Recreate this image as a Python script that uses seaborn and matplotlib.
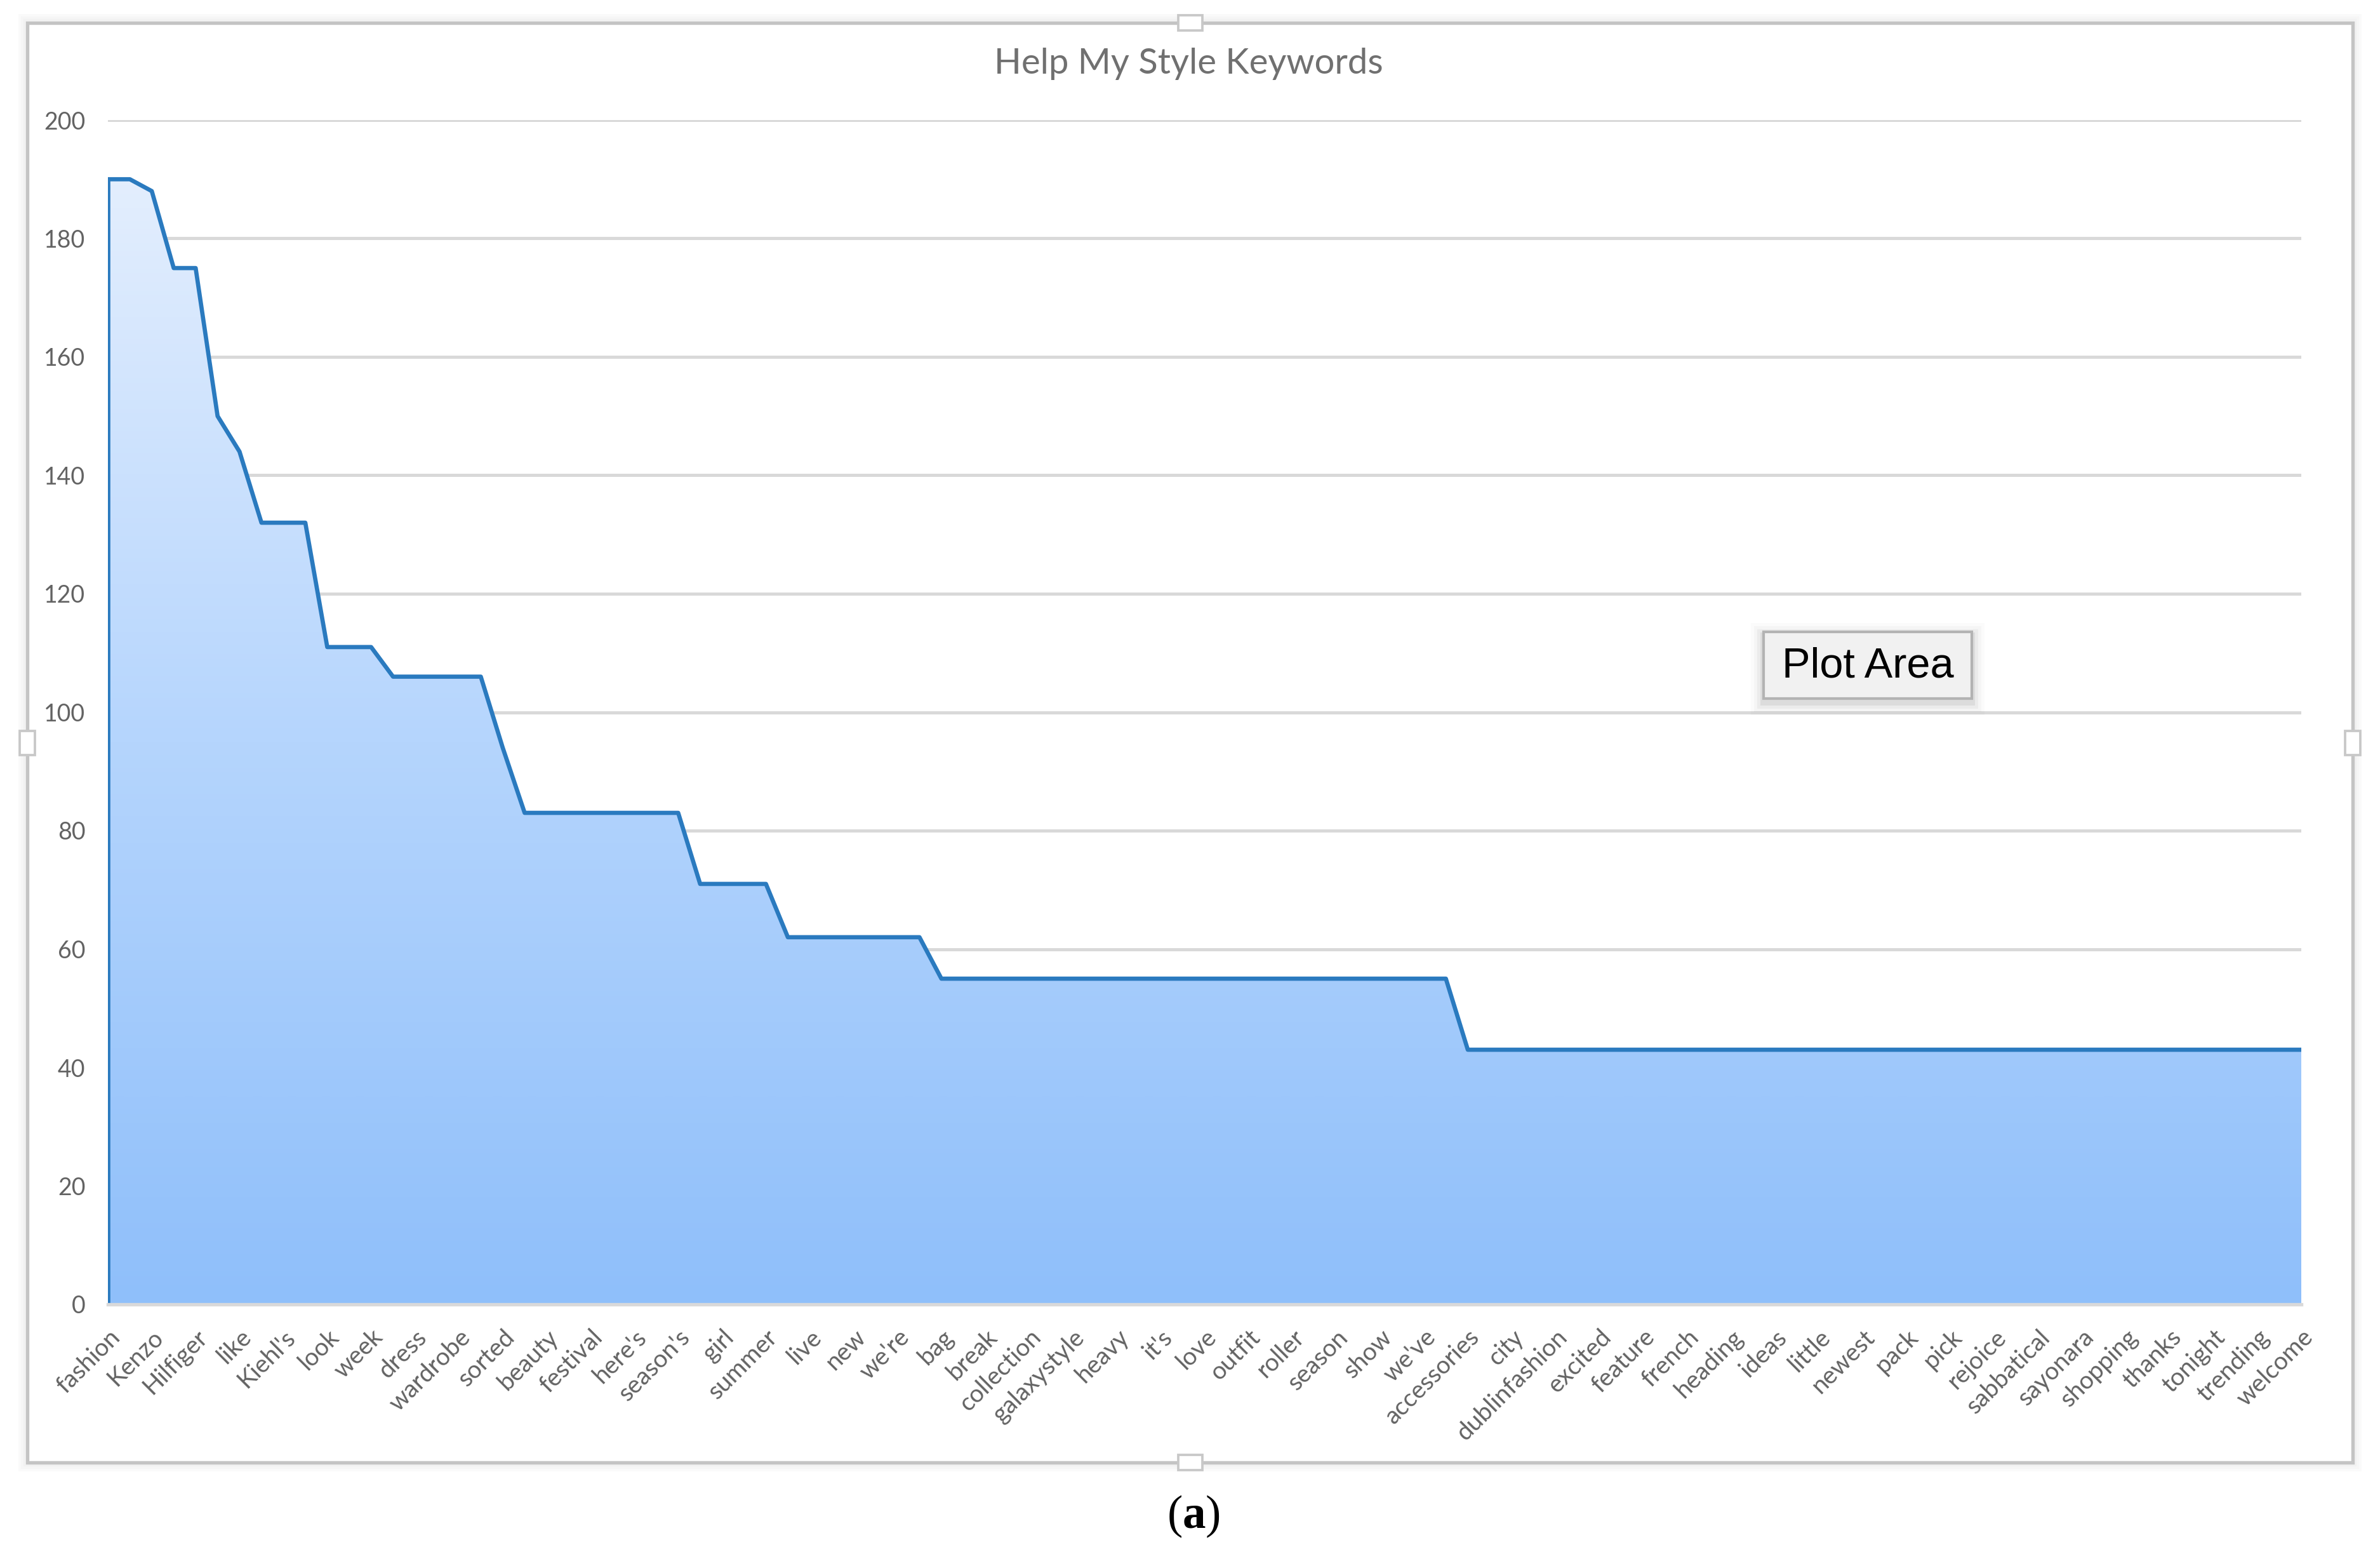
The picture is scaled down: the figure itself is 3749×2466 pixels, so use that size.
import numpy as np
import pandas as pd
import matplotlib
matplotlib.use("Agg")
import matplotlib.pyplot as plt
import seaborn as sns
from matplotlib.colors import LinearSegmentedColormap
from matplotlib.patches import Rectangle, PathPatch

# ---------------- data ----------------
title = "Help My Style Keywords"
# keyword labels (Excel shows every second category label)
shown_labels = ["fashion", "Kenzo", "Hilfiger", "like", "Kiehl's", "look", "week",
                "dress", "wardrobe", "sorted", "beauty", "festival", "here's",
                "season's", "girl", "summer", "live", "new", "we're", "bag", "break",
                "collection", "galaxystyle", "heavy", "it's", "love", "outfit",
                "roller", "season", "show", "we've", "accessories", "city",
                "dublinfashion", "excited", "feature", "french", "heading", "ideas",
                "little", "newest", "pack", "pick", "rejoice", "sabbatical",
                "sayonara", "shopping", "thanks", "tonight", "trending", "welcome"]
# keyword counts for all 101 keywords
counts = [190, 190, 188, 175, 175, 150, 144, 132, 132, 132,
          111, 111, 111, 106, 106, 106, 106, 106, 94, 83,
          83, 83, 83, 83, 83, 83, 83, 71, 71, 71,
          71, 62, 62, 62, 62, 62, 62, 62, 55, 55,
          55, 55, 55, 55, 55, 55, 55, 55, 55, 55,
          55, 55, 55, 55, 55, 55, 55, 55, 55, 55,
          55, 55, 43, 43, 43, 43, 43, 43, 43, 43,
          43, 43, 43, 43, 43, 43, 43, 43, 43, 43,
          43, 43, 43, 43, 43, 43, 43, 43, 43, 43,
          43, 43, 43, 43, 43, 43, 43, 43, 43, 43,
          43]
y_ticks = [0, 20, 40, 60, 80, 100, 120, 140, 160, 180, 200]

# --------------- style ----------------
sns.set_theme(style="white")
plt.rcParams["font.family"] = ["Lato", "DejaVu Sans"]
plt.rcParams["mathtext.fontset"] = "custom"
plt.rcParams["mathtext.rm"] = "Liberation Serif"
plt.rcParams["mathtext.bf"] = "Liberation Serif:bold"

W, H = 3749, 2466
fig = plt.figure(figsize=(W / 300, H / 300), dpi=300)
fig.patch.set_facecolor("white")

def fx(px):
    return px / W

def fy(py):
    return 1 - py / H

# chart outer border (Excel chart object)
L, T, R, B = 43, 36, 3706, 2303
for k, a in enumerate([0.05, 0.035, 0.02]):
    fig.patches.append(Rectangle((fx(L - 4 - 4 * k), fy(B + 4 + 4 * k)),
                                 fx(R - L + 8 + 8 * k), (B - T + 8 + 8 * k) / H,
                                 transform=fig.transFigure, fill=False,
                                 edgecolor="black", alpha=a, lw=1.0, zorder=0))
fig.patches.append(Rectangle((fx(L), fy(B)), fx(R - L), (B - T) / H,
                             transform=fig.transFigure, facecolor="white",
                             edgecolor="#c4c4c4", lw=1.3, zorder=1))
# selection handles
hw, hh = 38, 24
for cx, cy, w, h in [((L + R) / 2, T, hw, hh), ((L + R) / 2, B, hw, hh),
                     (L, 1170, hh, hw), (R, 1170, hh, hw)]:
    fig.patches.append(Rectangle((fx(cx - w / 2), fy(cy + h / 2)), fx(w), h / H,
                                 transform=fig.transFigure, facecolor="white",
                                 edgecolor="#c8c8c8", lw=0.9, zorder=2))

# plot area
ax = fig.add_axes([fx(170), fy(2054), fx(3625 - 170), (2054 - 189) / H], zorder=3)
ax.set_facecolor("none")

x = np.arange(len(counts))
df = pd.DataFrame({"pos": x, "count": counts})

# gradient area fill
fill = ax.fill_between(df["pos"], 0, df["count"], color="none", lw=0)
path = fill.get_paths()[0]
clip = PathPatch(path, transform=ax.transData, facecolor="none", edgecolor="none")
ax.add_patch(clip)
cmap = LinearSegmentedColormap.from_list("excel", ["#8fbffa", "#b5d5fd", "#e3eefd"])
grad = np.linspace(0, 1, 256).reshape(-1, 1)
img = ax.imshow(grad, extent=[0, len(counts) - 1, 0, max(counts)], origin="lower",
                aspect="auto", cmap=cmap, zorder=1, interpolation="bilinear")
img.set_clip_path(clip)

# outline
line_color = "#2a7abf"
sns.lineplot(data=df, x="pos", y="count", estimator=None, sort=False,
             color=line_color, lw=1.6, ax=ax, zorder=4)
ax.vlines(df["pos"].iloc[0], 0, df["count"].iloc[0], color=line_color, lw=1.6, zorder=4)

# axes
ax.set_xlim(0, len(counts) - 1)
ax.set_ylim(0, 200)
ax.set_yticks(y_ticks)
ax.set_yticklabels([str(v) for v in y_ticks])
ax.yaxis.grid(True, color="#d9d9d9", lw=1.2, zorder=0)
ax.xaxis.grid(False)
ax.set_axisbelow(True)
for s in ["top", "right", "left"]:
    ax.spines[s].set_visible(False)
ax.spines["bottom"].set_color("#d9d9d9")
ax.spines["bottom"].set_linewidth(1.3)
ax.spines["bottom"].set_zorder(5)

tick_labels = []
for i in range(len(counts)):
    tick_labels.append(shown_labels[i // 2] if i % 2 == 0 else "")
ax.set_xticks(x)
ax.set_xticklabels(tick_labels, rotation=45, ha="right", va="top",
                   rotation_mode="anchor")
ax.tick_params(axis="x", direction="out", length=3.5, width=1.2, color="#d9d9d9",
               labelsize=9.3, labelcolor="#636363", pad=4.5)
ax.tick_params(axis="y", length=0, labelsize=9, labelcolor="#636363", pad=8.5)
ax.set_xlabel("")
ax.set_ylabel("")

# title
fig.text(fx(1872), fy(100), title, ha="center", va="center", fontsize=13.5,
         color="#707070", zorder=6)

# "Plot Area" tooltip
bx0, by0, bx1, by1 = 2778, 995, 3106, 1100
for k, a in enumerate([0.06, 0.04, 0.025, 0.015]):
    d = 5 * (k + 1)
    fig.patches.append(Rectangle((fx(bx0 - d), fy(by1 + d + 6)), fx(bx1 - bx0 + 2 * d),
                                 (by1 - by0 + 2 * d) / H, transform=fig.transFigure,
                                 facecolor="black", edgecolor="none", alpha=a, zorder=7))
fig.patches.append(Rectangle((fx(bx0), fy(by1)), fx(bx1 - bx0), (by1 - by0) / H,
                             transform=fig.transFigure, facecolor="#f1f1f1",
                             edgecolor="#b3b3b3", lw=1.0, zorder=8))
fig.text(fx((bx0 + bx1) / 2), fy((by0 + by1) / 2 + 2), "Plot Area", ha="center",
         va="center", fontsize=16, color="black",
         family=["Liberation Sans", "DejaVu Sans"], zorder=9)

# panel caption
fig.text(fx(1880), fy(2388), r"($\mathbf{a}$)", ha="center", va="center",
         fontsize=17.5, color="black", family=["Liberation Serif", "DejaVu Serif"])

fig.savefig("out.png", dpi=300, facecolor="white")
